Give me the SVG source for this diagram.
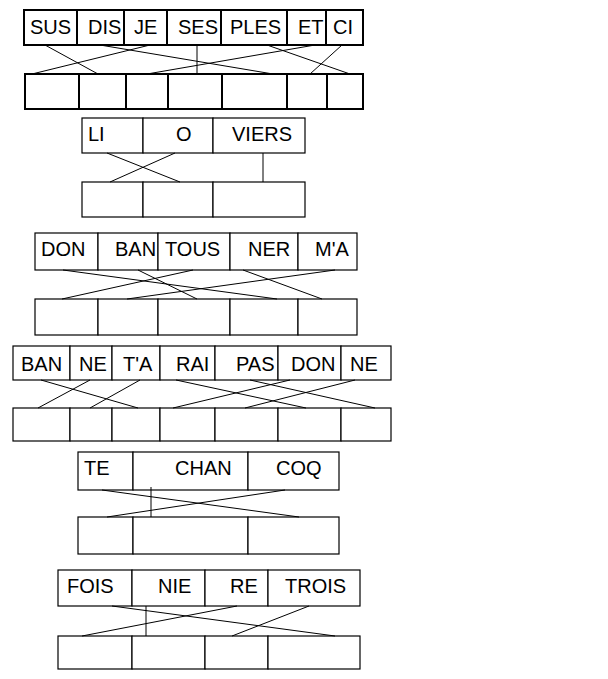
<svg xmlns="http://www.w3.org/2000/svg" width="608" height="679" viewBox="0 0 608 679">
<style>
rect{fill:#fff;stroke:#000;stroke-width:1.2}
.b1 rect{stroke-width:2}
text{font-family:"Liberation Sans",Arial,sans-serif;font-size:20px;fill:#000}
#connectors line{stroke:#000;stroke-width:1}
</style>
<rect x="0" y="0" width="608" height="679" style="stroke:none"/>
<g id="block1" class="b1">
<g id="b1-sus"><rect x="24" y="10" width="53" height="35"/><text x="30" y="34">SUS</text></g>
<g id="b1-dis"><rect x="77" y="10" width="47" height="35"/><text x="88" y="34">DIS</text></g>
<g id="b1-je"><rect x="124" y="10" width="43" height="35"/><text x="134" y="34">JE</text></g>
<g id="b1-ses"><rect x="167" y="10" width="54" height="35"/><text x="178" y="34">SES</text></g>
<g id="b1-ples"><rect x="221" y="10" width="66" height="35"/><text x="230" y="34">PLES</text></g>
<g id="b1-et"><rect x="287" y="10" width="39" height="35"/><text x="298" y="34">ET</text></g>
<g id="b1-ci"><rect x="326" y="10" width="37" height="35"/><text x="333" y="34">CI</text></g>
<g id="b1-ans"><rect x="25" y="74" width="54" height="35"/><rect x="79" y="74" width="47" height="35"/><rect x="126" y="74" width="42" height="35"/><rect x="168" y="74" width="54" height="35"/><rect x="222" y="74" width="65" height="35"/><rect x="287" y="74" width="40" height="35"/><rect x="327" y="74" width="36" height="35"/></g>
</g>
<g id="block2">
<g id="b2-li"><rect x="82" y="118" width="61" height="35"/><text x="88" y="141">LI</text></g>
<g id="b2-o"><rect x="143" y="118" width="70" height="35"/><text x="176" y="141">O</text></g>
<g id="b2-viers"><rect x="213" y="118" width="92" height="35"/><text x="232" y="141">VIERS</text></g>
<g id="b2-ans"><rect x="82" y="182" width="61" height="35"/><rect x="143" y="182" width="70" height="35"/><rect x="213" y="182" width="92" height="35"/></g>
</g>
<g id="block3">
<g id="b3-don"><rect x="35" y="233" width="63" height="37"/><text x="41" y="256">DON</text></g>
<g id="b3-ban"><rect x="98" y="233" width="60" height="37"/><text x="115" y="256">BAN</text></g>
<g id="b3-tous"><rect x="158" y="233" width="72" height="37"/><text x="165" y="256">TOUS</text></g>
<g id="b3-ner"><rect x="230" y="233" width="68" height="37"/><text x="248" y="256">NER</text></g>
<g id="b3-ma"><rect x="298" y="233" width="59" height="37"/><text x="315" y="256">M'A</text></g>
<g id="b3-ans"><rect x="35" y="299" width="63" height="36"/><rect x="98" y="299" width="60" height="36"/><rect x="158" y="299" width="72" height="36"/><rect x="230" y="299" width="68" height="36"/><rect x="298" y="299" width="59" height="36"/></g>
</g>
<g id="block4">
<g id="b4-ban"><rect x="13" y="346" width="57" height="34"/><text x="21" y="371">BAN</text></g>
<g id="b4-ne1"><rect x="70" y="346" width="42" height="34"/><text x="79" y="371">NE</text></g>
<g id="b4-ta"><rect x="112" y="346" width="48" height="34"/><text x="123" y="371">T'A</text></g>
<g id="b4-rai"><rect x="160" y="346" width="55" height="34"/><text x="176" y="371">RAI</text></g>
<g id="b4-pas"><rect x="215" y="346" width="63" height="34"/><text x="236" y="371">PAS</text></g>
<g id="b4-don"><rect x="278" y="346" width="63" height="34"/><text x="291" y="371">DON</text></g>
<g id="b4-ne2"><rect x="341" y="346" width="50" height="34"/><text x="350" y="371">NE</text></g>
<g id="b4-ans"><rect x="13" y="408" width="57" height="33"/><rect x="70" y="408" width="42" height="33"/><rect x="112" y="408" width="48" height="33"/><rect x="160" y="408" width="55" height="33"/><rect x="215" y="408" width="63" height="33"/><rect x="278" y="408" width="63" height="33"/><rect x="341" y="408" width="50" height="33"/></g>
</g>
<g id="block5">
<g id="b5-te"><rect x="78" y="452" width="55" height="38"/><text x="84" y="475">TE</text></g>
<g id="b5-chan"><rect x="133" y="452" width="115" height="38"/><text x="175" y="475">CHAN</text></g>
<g id="b5-coq"><rect x="248" y="452" width="91" height="38"/><text x="276" y="475">COQ</text></g>
<g id="b5-ans"><rect x="78" y="517" width="55" height="37"/><rect x="133" y="517" width="115" height="37"/><rect x="248" y="517" width="91" height="37"/></g>
</g>
<g id="block6">
<g id="b6-fois"><rect x="58" y="570" width="74" height="36"/><text x="67" y="593">FOIS</text></g>
<g id="b6-nie"><rect x="132" y="570" width="73" height="36"/><text x="158" y="593">NIE</text></g>
<g id="b6-re"><rect x="205" y="570" width="63" height="36"/><text x="230" y="593">RE</text></g>
<g id="b6-trois"><rect x="268" y="570" width="92" height="36"/><text x="285" y="593">TROIS</text></g>
<g id="b6-ans"><rect x="58" y="636" width="74" height="33"/><rect x="132" y="636" width="73" height="33"/><rect x="205" y="636" width="63" height="33"/><rect x="268" y="636" width="92" height="33"/></g>
</g>
<g id="connectors">
<line x1="45" y1="45" x2="98" y2="74"/>
<line x1="150" y1="45" x2="32" y2="74"/>
<line x1="100" y1="45" x2="273" y2="74"/>
<line x1="197" y1="45" x2="197" y2="74"/>
<line x1="315" y1="45" x2="147" y2="74"/>
<line x1="267" y1="45" x2="350" y2="74"/>
<line x1="342" y1="45" x2="310" y2="74"/>
<line x1="107" y1="153" x2="180" y2="182"/>
<line x1="175" y1="153" x2="110" y2="182"/>
<line x1="263" y1="153" x2="263" y2="182"/>
<line x1="63" y1="270" x2="277" y2="299"/>
<line x1="138" y1="270" x2="197" y2="299"/>
<line x1="193" y1="270" x2="62" y2="299"/>
<line x1="243" y1="270" x2="322" y2="299"/>
<line x1="335" y1="270" x2="127" y2="299"/>
<line x1="41" y1="380" x2="138" y2="408"/>
<line x1="90" y1="380" x2="38" y2="408"/>
<line x1="140" y1="380" x2="90" y2="408"/>
<line x1="176" y1="380" x2="306" y2="408"/>
<line x1="250" y1="380" x2="375" y2="408"/>
<line x1="290" y1="380" x2="173" y2="408"/>
<line x1="355" y1="380" x2="245" y2="408"/>
<line x1="102" y1="490" x2="299" y2="517"/>
<line x1="285" y1="490" x2="107" y2="517"/>
<line x1="151" y1="487" x2="151" y2="517"/>
<line x1="112" y1="606" x2="335" y2="636"/>
<line x1="237" y1="606" x2="82" y2="636"/>
<line x1="146" y1="606" x2="146" y2="636"/>
<line x1="309" y1="606" x2="232" y2="636"/>
</g>
</svg>
